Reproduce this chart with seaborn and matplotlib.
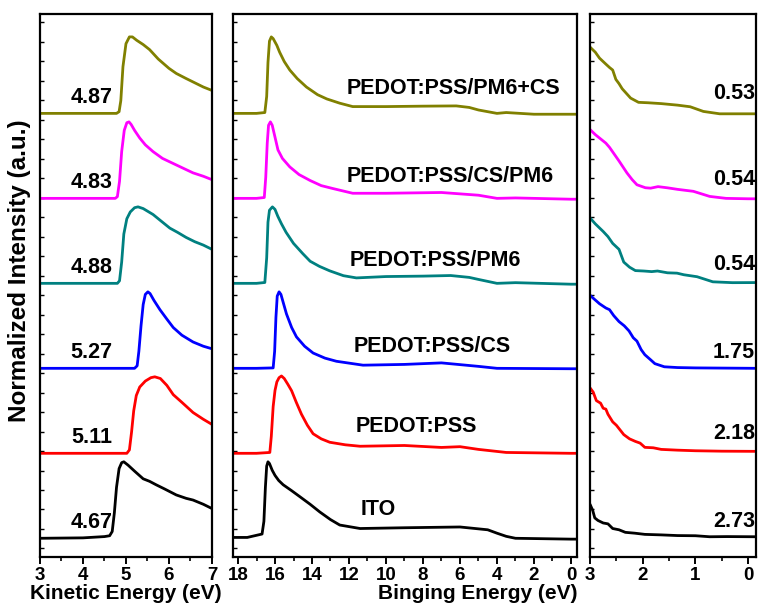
import numpy as np
import pandas as pd
import matplotlib
matplotlib.use("Agg")
import matplotlib.pyplot as plt
import seaborn as sns
from matplotlib.ticker import MultipleLocator

# ---------------- data ----------------
samples = ["ITO", "PEDOT:PSS", "PEDOT:PSS/CS", "PEDOT:PSS/PM6",
           "PEDOT:PSS/CS/PM6", "PEDOT:PSS/PM6+CS"]
colors = ["#000000", "#ff0000", "#0000ff", "#008080", "#ff00ff", "#808000"]
wf_labels = ["4.67", "5.11", "5.27", "4.88", "4.83", "4.87"]
vb_labels = ["2.73", "2.18", "1.75", "0.54", "0.54", "0.53"]
offsets = [0.22, 1.22, 2.22, 3.22, 4.22, 5.22]

# Kinetic-energy (secondary electron cut-off) panel
ke_x_ito = [3.0, 4.0, 4.5, 4.62, 4.68, 4.73, 4.78, 4.84, 4.9, 4.95, 5.05, 5.2, 5.4, 5.55, 5.7, 5.9, 6.17, 6.4, 6.56, 6.8, 7.0]
ke_i_ito = [0, 0.005, 0.02, 0.03, 0.08, 0.3, 0.6, 0.82, 0.89, 0.9, 0.86, 0.79, 0.7, 0.67, 0.63, 0.58, 0.51, 0.47, 0.45, 0.40, 0.35]
ke_x_pss = [3.0, 4.5, 5.02, 5.08, 5.13, 5.18, 5.24, 5.32, 5.45, 5.58, 5.67, 5.8, 5.95, 6.1, 6.3, 6.56, 6.8, 7.0]
ke_i_pss = [0, 0, 0, 0.04, 0.25, 0.5, 0.68, 0.78, 0.85, 0.89, 0.9, 0.88, 0.8, 0.69, 0.6, 0.48, 0.4, 0.34]
ke_x_cs = [3.0, 4.5, 5.2, 5.26, 5.3, 5.35, 5.4, 5.45, 5.51, 5.56, 5.65, 5.79, 5.95, 6.1, 6.3, 6.56, 6.8, 7.0]
ke_i_cs = [0, 0, 0, 0.03, 0.2, 0.5, 0.75, 0.87, 0.9, 0.88, 0.8, 0.69, 0.58, 0.48, 0.39, 0.31, 0.26, 0.23]
ke_x_pm6 = [3.0, 4.0, 4.8, 4.85, 4.9, 4.95, 5.02, 5.1, 5.2, 5.28, 5.4, 5.63, 5.8, 6.02, 6.2, 6.4, 6.6, 6.8, 7.0]
ke_i_pm6 = [0, 0, 0, 0.03, 0.25, 0.58, 0.76, 0.84, 0.89, 0.9, 0.88, 0.81, 0.74, 0.65, 0.60, 0.54, 0.49, 0.45, 0.40]
ke_x_cspm6 = [3.0, 4.0, 4.75, 4.8, 4.85, 4.9, 4.96, 5.02, 5.07, 5.12, 5.2, 5.32, 5.45, 5.63, 5.85, 6.1, 6.35, 6.56, 6.8, 7.0]
ke_i_cspm6 = [0, 0, 0, 0.02, 0.2, 0.55, 0.8, 0.89, 0.9, 0.87, 0.8, 0.71, 0.63, 0.55, 0.47, 0.41, 0.35, 0.30, 0.26, 0.22]
ke_x_pm6cs = [3.0, 4.0, 4.78, 4.84, 4.88, 4.93, 5.0, 5.08, 5.15, 5.25, 5.4, 5.55, 5.75, 6.0, 6.17, 6.4, 6.56, 6.8, 7.0]
ke_i_pm6cs = [0, 0, 0, 0.02, 0.15, 0.55, 0.82, 0.9, 0.9, 0.86, 0.81, 0.75, 0.64, 0.53, 0.47, 0.41, 0.37, 0.31, 0.27]

# Binding-energy (full spectrum) panel
be_x_ito = [18.3, 17.5, 16.7, 16.6, 16.52, 16.45, 16.38, 16.3, 16.15, 16.0, 15.8, 15.56, 15.1, 14.66, 14.1, 13.58, 13.0, 12.5, 11.4, 9.0, 6.0, 4.5, 4.0, 3.5, 3.0, 0.0, -0.4]
be_i_ito = [0.01, 0.01, 0.05, 0.2, 0.6, 0.85, 0.9, 0.88, 0.8, 0.74, 0.68, 0.63, 0.56, 0.49, 0.40, 0.31, 0.22, 0.156, 0.115, 0.124, 0.133, 0.10, 0.06, 0.023, 0.0, -0.01, -0.01]
be_x_pss = [18.3, 17.0, 16.28, 16.2, 16.1, 16.0, 15.9, 15.78, 15.65, 15.5, 15.3, 15.1, 14.85, 14.57, 14.25, 13.94, 13.5, 13.04, 12.2, 11.4, 9.0, 7.0, 6.0, 5.0, 3.5, 0.0, -0.4]
be_i_pss = [0, 0, 0.01, 0.2, 0.55, 0.74, 0.84, 0.89, 0.91, 0.88, 0.81, 0.735, 0.6, 0.46, 0.33, 0.23, 0.17, 0.13, 0.1, 0.083, 0.092, 0.069, 0.078, 0.046, 0.01, 0.0, 0.0]
be_x_cs = [18.3, 17.0, 16.1, 16.02, 15.95, 15.88, 15.78, 15.68, 15.55, 15.38, 15.1, 14.84, 14.4, 13.94, 13.3, 12.68, 11.24, 9.0, 7.0, 5.0, 4.0, 0.0, -0.4]
be_i_cs = [0, 0, 0.005, 0.2, 0.6, 0.85, 0.9, 0.87, 0.77, 0.64, 0.48, 0.37, 0.26, 0.18, 0.12, 0.083, 0.037, 0.046, 0.064, 0.023, 0.0, -0.005, -0.005]
be_x_pm6 = [18.3, 17.0, 16.55, 16.45, 16.38, 16.3, 16.14, 16.0, 15.85, 15.65, 15.4, 15.0, 14.5, 14.1, 13.6, 13.04, 12.3, 11.6, 10.0, 8.0, 6.5, 5.5, 5.0, 4.0, 3.0, 0.0, -0.4]
be_i_pm6 = [0, 0, 0.01, 0.3, 0.72, 0.86, 0.9, 0.87, 0.79, 0.70, 0.6, 0.47, 0.35, 0.26, 0.2, 0.147, 0.09, 0.064, 0.08, 0.085, 0.092, 0.07, 0.046, 0.0, 0.008, -0.01, -0.01]
be_x_cspm6 = [18.3, 17.0, 16.58, 16.5, 16.42, 16.35, 16.25, 16.15, 16.0, 15.84, 15.6, 15.2, 14.7, 14.1, 13.5, 12.86, 11.8, 10.0, 7.0, 5.0, 4.0, 3.0, 0.0, -0.4]
be_i_cspm6 = [0, 0, 0.01, 0.25, 0.65, 0.86, 0.9, 0.86, 0.72, 0.57, 0.47, 0.37, 0.28, 0.21, 0.15, 0.115, 0.06, 0.06, 0.069, 0.037, 0.0, 0.005, -0.01, -0.01]
be_x_pm6cs = [18.3, 17.0, 16.55, 16.45, 16.38, 16.3, 16.2, 16.1, 15.9, 15.75, 15.5, 15.2, 14.8, 14.3, 13.7, 13.2, 12.5, 11.8, 10.0, 8.0, 6.2, 5.5, 5.0, 4.0, 3.5, 2.0, 0.0, -0.4]
be_i_pm6cs = [0, 0, 0.01, 0.2, 0.6, 0.85, 0.9, 0.88, 0.8, 0.72, 0.61, 0.51, 0.41, 0.31, 0.22, 0.17, 0.12, 0.08, 0.08, 0.085, 0.088, 0.07, 0.04, 0.0, 0.01, -0.01, -0.01, -0.01]

# Valence-band (low binding energy) panel
vb_x_ito = [3.0, 2.95, 2.91, 2.85, 2.75, 2.66, 2.57, 2.45, 2.33, 2.15, 1.96, 1.65, 1.34, 1.0, 0.73, 0.4, -0.15]
vb_i_ito = [0.40, 0.33, 0.24, 0.21, 0.18, 0.17, 0.115, 0.10, 0.07, 0.06, 0.046, 0.04, 0.032, 0.03, 0.018, 0.02, 0.018]
vb_x_pss = [3.0, 2.94, 2.88, 2.8, 2.75, 2.7, 2.66, 2.57, 2.5, 2.36, 2.25, 2.14, 2.05, 1.96, 1.8, 1.65, 1.34, 1.0, 0.5, -0.15]
vb_i_pss = [0.77, 0.72, 0.62, 0.59, 0.53, 0.52, 0.46, 0.37, 0.33, 0.22, 0.17, 0.14, 0.12, 0.07, 0.065, 0.046, 0.037, 0.03, 0.025, 0.023]
vb_x_cs = [3.0, 2.93, 2.82, 2.7, 2.63, 2.55, 2.45, 2.35, 2.26, 2.18, 2.11, 2.03, 1.96, 1.85, 1.77, 1.59, 1.34, 1.0, -0.15]
vb_i_cs = [0.86, 0.82, 0.76, 0.71, 0.69, 0.62, 0.55, 0.50, 0.44, 0.36, 0.32, 0.22, 0.16, 0.10, 0.055, 0.018, 0.009, 0.005, 0.0]
vb_x_pm6 = [3.0, 2.9, 2.75, 2.66, 2.57, 2.45, 2.36, 2.25, 2.14, 1.98, 1.83, 1.72, 1.53, 1.35, 1.22, 0.97, 0.67, 0.3, -0.15]
vb_i_pm6 = [0.77, 0.70, 0.61, 0.55, 0.47, 0.40, 0.25, 0.19, 0.15, 0.145, 0.138, 0.145, 0.124, 0.12, 0.101, 0.078, 0.018, 0.008, 0.009]
vb_x_cspm6 = [3.0, 2.9, 2.82, 2.7, 2.63, 2.45, 2.3, 2.2, 2.11, 1.95, 1.85, 1.71, 1.53, 1.34, 1.04, 0.73, 0.42, 0.0, -0.15]
vb_i_cspm6 = [0.81, 0.75, 0.71, 0.65, 0.60, 0.44, 0.30, 0.22, 0.16, 0.125, 0.12, 0.138, 0.124, 0.106, 0.083, 0.023, 0.0, -0.005, -0.005]
vb_x_pm6cs = [3.0, 2.9, 2.82, 2.7, 2.63, 2.57, 2.51, 2.45, 2.39, 2.23, 2.08, 1.9, 1.65, 1.34, 1.1, 0.85, 0.54, 0.3, -0.15]
vb_i_pm6cs = [0.78, 0.72, 0.65, 0.58, 0.54, 0.51, 0.40, 0.35, 0.29, 0.18, 0.13, 0.125, 0.115, 0.097, 0.078, 0.023, -0.005, -0.005, -0.005]

# ---------------- style ----------------
sns.set_style("ticks")
plt.rcParams["font.family"] = ["Liberation Sans", "DejaVu Sans"]
plt.rcParams["font.weight"] = "bold"
plt.rcParams["axes.labelweight"] = "bold"
plt.rcParams["axes.linewidth"] = 1.6
plt.rcParams["text.color"] = "black"
plt.rcParams["axes.labelcolor"] = "black"
plt.rcParams["axes.edgecolor"] = "black"
plt.rcParams["xtick.color"] = "black"
plt.rcParams["ytick.color"] = "black"

fig = plt.figure(figsize=(7.63, 6.12), dpi=100)
ax_ke = fig.add_axes([0.0524, 0.0899, 0.2254, 0.8873])
ax_be = fig.add_axes([0.3054, 0.0899, 0.4509, 0.8873])
ax_vb = fig.add_axes([0.7733, 0.0899, 0.2176, 0.8873])

palette = dict(zip(samples, colors))


def make_frame(xs, ys):
    rows = []
    for s, x, y, off in zip(samples, xs, ys, offsets):
        rows.append(pd.DataFrame({"x": x, "y": np.asarray(y) + off, "sample": s}))
    return pd.concat(rows, ignore_index=True)


df_ke = make_frame([ke_x_ito, ke_x_pss, ke_x_cs, ke_x_pm6, ke_x_cspm6, ke_x_pm6cs],
                   [ke_i_ito, ke_i_pss, ke_i_cs, ke_i_pm6, ke_i_cspm6, ke_i_pm6cs])
df_be = make_frame([be_x_ito, be_x_pss, be_x_cs, be_x_pm6, be_x_cspm6, be_x_pm6cs],
                   [be_i_ito, be_i_pss, be_i_cs, be_i_pm6, be_i_cspm6, be_i_pm6cs])
df_vb = make_frame([vb_x_ito, vb_x_pss, vb_x_cs, vb_x_pm6, vb_x_cspm6, vb_x_pm6cs],
                   [vb_i_ito, vb_i_pss, vb_i_cs, vb_i_pm6, vb_i_cspm6, vb_i_pm6cs])

for ax, df in [(ax_ke, df_ke), (ax_be, df_be), (ax_vb, df_vb)]:
    sns.lineplot(data=df, x="x", y="y", hue="sample", palette=palette,
                 sort=False, estimator=None, legend=False, linewidth=2.0, ax=ax)
    ax.set_ylim(0, 6.39)
    ax.set_ylabel("")
    ax.set_yticks(np.arange(0.1, 6.39, 0.2294), minor=True)
    ax.set_yticks([])
    ax.tick_params(axis="y", which="minor", direction="in", length=3, width=1,
                   left=True, right=False, color="black")
    ax.tick_params(axis="x", which="major", direction="out", length=5, width=1.4,
                   pad=2, color="black", labelcolor="black")
    ax.tick_params(axis="x", which="minor", direction="out", length=3, width=1.2,
                   color="black")
    for sp in ax.spines.values():
        sp.set_visible(True)
        sp.set_linewidth(1.6)
        sp.set_color("black")

ax_ke.set_xlim(3, 7)
ax_ke.xaxis.set_major_locator(MultipleLocator(1))
ax_ke.xaxis.set_minor_locator(MultipleLocator(0.5))
ax_be.set_xlim(18.27, -0.33)
ax_be.xaxis.set_major_locator(MultipleLocator(2))
ax_be.xaxis.set_minor_locator(MultipleLocator(1))
ax_vb.set_xlim(3, -0.15)
ax_vb.xaxis.set_major_locator(MultipleLocator(1))
ax_vb.xaxis.set_minor_locator(MultipleLocator(0.5))

for ax in (ax_ke, ax_be, ax_vb):
    for lab in ax.get_xticklabels():
        lab.set_fontweight("bold")
        lab.set_fontsize(13.5)

ax_ke.set_xlabel("Kinetic Energy (eV)", fontsize=15, fontweight="bold", labelpad=0,
                 color="black")
ax_be.set_xlabel("Binging Energy (eV)", fontsize=15, fontweight="bold", labelpad=0,
                 loc="right", color="black")
ax_vb.set_xlabel("")
fig.text(0.026, 0.557, "Normalized Intensity (a.u.)", rotation=90, fontsize=17.5,
         fontweight="bold", ha="center", va="center", color="black")

# annotations
for lab, off in zip(wf_labels, offsets):
    ax_ke.text(4.2, off + 0.19, lab, fontsize=15.5, fontweight="bold",
               ha="center", va="center", color="black")

be_label_x = [10.44, 8.38, 7.52, 7.36, 6.54, 6.38]
be_label_dy = [0.34, 0.31, 0.26, 0.27, 0.26, 0.29]
for s, bx, dy, off in zip(samples, be_label_x, be_label_dy, offsets):
    ax_be.text(bx, off + dy, s, fontsize=15.5, fontweight="bold",
               ha="center", va="center", color="black")

vb_label_dy = [0.20, 0.23, 0.19, 0.22, 0.22, 0.23]
for lab, dy, off in zip(vb_labels, vb_label_dy, offsets):
    ax_vb.text(-0.13, off + dy, lab, fontsize=15.5, fontweight="bold",
               ha="right", va="center", color="black")

fig.savefig("out.png", dpi=100)
